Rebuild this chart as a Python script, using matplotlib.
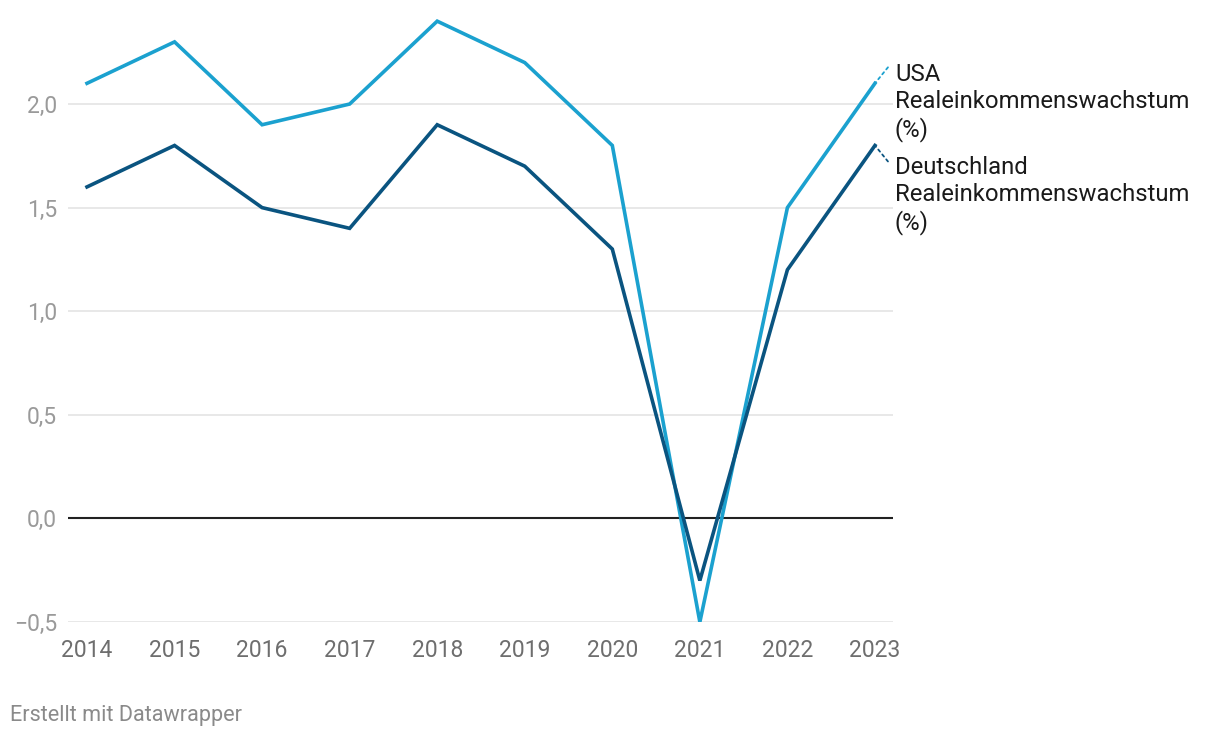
import matplotlib.pyplot as plt
from matplotlib.ticker import FuncFormatter

plt.rcParams['font.family'] = ['Roboto', 'DejaVu Sans']

years = [2014, 2015, 2016, 2017, 2018, 2019, 2020, 2021, 2022, 2023]
usa = [2.1, 2.3, 1.9, 2.0, 2.4, 2.2, 1.8, -0.5, 1.5, 2.1]
deutschland = [1.6, 1.8, 1.5, 1.4, 1.9, 1.7, 1.3, -0.3, 1.2, 1.8]
yticks = [-0.5, 0.0, 0.5, 1.0, 1.5, 2.0]

usa_label = "USA\nRealeinkommenswachstum\n(%)"
de_label = "Deutschland\nRealeinkommenswachstum\n(%)"

c_usa = '#1ba1cf'
c_de = '#0a5480'

fig = plt.figure(figsize=(12.2, 7.38), dpi=100)
ax = fig.add_axes([68/1220, 1-622/738, (893-68)/1220, (622-10.8)/738])

ax.set_xlim(2013.783, 2023.206)
ax.set_ylim(-0.5, 2.45)

for y in yticks:
    if y == 0:
        ax.axhline(y, color='#222222', lw=1.5, zorder=2)
    else:
        ax.axhline(y, color='#e2e2e2', lw=1.1, zorder=1)

ax.plot(years, usa, color=c_usa, lw=2.6, zorder=3, solid_joinstyle='miter')
ax.plot(years, deutschland, color=c_de, lw=2.6, zorder=4, solid_joinstyle='miter')

for s in ax.spines.values():
    s.set_visible(False)

ax.set_yticks(yticks)
ax.yaxis.set_major_formatter(FuncFormatter(
    lambda v, p: f"{v:.1f}".replace('.', ',').replace('-', '\u2212')))
ax.set_xticks(years)
ax.set_xticklabels([str(y) for y in years])
ax.tick_params(axis='y', length=0, pad=8, labelsize=16.5, labelcolor='#9a9a9a')
ax.tick_params(axis='x', length=0, pad=12, labelsize=16.5, labelcolor='#6e6e6e')

# labels at line ends with dotted connectors
for vals, col, dy in [(usa, c_usa, 16), (deutschland, c_de, -16)]:
    ax.annotate("", xy=(years[-1], vals[-1]), xytext=(13 * 0.72, dy * 0.72),
                textcoords='offset points',
                arrowprops=dict(arrowstyle='-', color=col, lw=1.3,
                                linestyle=(0, (1.5, 2)), shrinkA=0, shrinkB=0),
                annotation_clip=False)

ax.annotate(usa_label, xy=(years[-1], usa[-1]), xytext=(20 * 0.72, 20 * 0.72),
            textcoords='offset points', va='top', ha='left', fontsize=17.2,
            color='#1a1a1a', linespacing=1.2, annotation_clip=False)
ax.annotate(de_label, xy=(years[-1], deutschland[-1]), xytext=(20 * 0.72, -11 * 0.72),
            textcoords='offset points', va='top', ha='left', fontsize=17.2,
            color='#1a1a1a', linespacing=1.2, annotation_clip=False)

fig.text(10/1220, 1-716/738, "Erstellt mit Datawrapper", fontsize=15.6,
         color='#8a8a8a', va='center', ha='left')

fig.savefig('out.png', dpi=100, facecolor='white')
